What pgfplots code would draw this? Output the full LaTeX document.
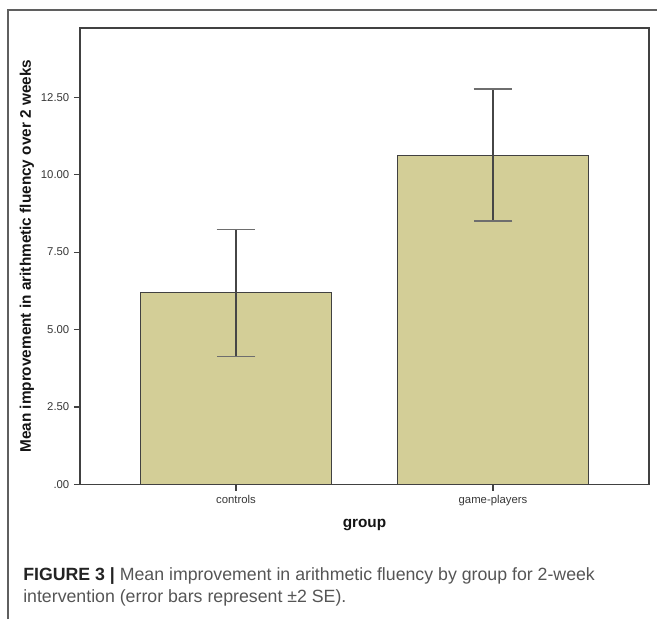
\documentclass[border=0pt]{standalone}
\usepackage{fontspec}
\setmainfont{Liberation Sans}
\usepackage{pgfplots}
\pgfplotsset{compat=1.18}
\definecolor{barfill}{RGB}{211,206,151}
\definecolor{edge}{RGB}{65,65,65}
\definecolor{framegray}{RGB}{95,95,95}
\definecolor{ticktext}{RGB}{55,55,55}
\definecolor{labeltext}{RGB}{20,20,20}
\definecolor{errcol}{RGB}{70,70,70}
\definecolor{capcol}{RGB}{110,110,110}
\definecolor{captext}{RGB}{85,85,85}
\definecolor{capbold}{RGB}{35,35,35}
\begin{document}
\begin{tikzpicture}
\path[use as bounding box] (0,0) rectangle (492.75pt,464.25pt);
\draw[color=framegray, line width=1.1pt] (6pt,0) -- (6pt,456.75pt) -- (492.75pt,456.75pt);
\begin{axis}[
  at={(60pt,100.875pt)}, anchor=south west,
  scale only axis, width=426.75pt, height=342.375pt,
  xmin=-0.607, xmax=1.607, ymin=0, ymax=14.73,
  xtick={0,1}, xticklabels={controls,game-players},
  ytick={0,2.5,5,7.5,10,12.5}, yticklabels={.00,2.50,5.00,7.50,10.00,12.50},
  tick align=outside, major tick length=4.5pt,
  xtick pos=bottom, ytick pos=left,
  axis line style={edge, line width=0.9pt},
  tick style={edge, line width=0.8pt},
  tick label style={font=\fontsize{8.5}{10}\selectfont, color=ticktext},
  /pgf/number format/assume math mode=true,
  xlabel={group}, ylabel={Mean improvement in arithmetic fluency over 2 weeks},
  label style={font=\bfseries\fontsize{11.5}{13}\selectfont, color=labeltext},
  xlabel style={at={(axis description cs:0.5,-0.0887)}, anchor=center},
  ylabel style={at={(axis description cs:-0.0931,0.5)}, anchor=center},
]
\addplot[ybar, bar width=0.747, fill=barfill, draw=edge, line width=0.75pt,
  error bars/.cd, y dir=both, y explicit, error mark=|,
  error bar style={color=errcol, line width=0.8pt},
  error mark options={color=capcol, line width=1.4pt, mark size=14.6pt}]
  coordinates {(0,6.18) +- (0,2.05) (1,10.62) +- (0,2.13)};
\end{axis}
\node[anchor=base west, inner sep=0, font=\fontsize{13.3}{16}\selectfont, text=captext] at (17.25pt,29.25pt) {{\bfseries\color{capbold}FIGURE 3 |} Mean improvement in arithmetic fluency by group for 2-week};
\node[anchor=base west, inner sep=0, font=\fontsize{13.3}{16}\selectfont, text=captext] at (17.25pt,12.375pt) {intervention (error bars represent ±2 SE).};
\end{tikzpicture}
\end{document}
